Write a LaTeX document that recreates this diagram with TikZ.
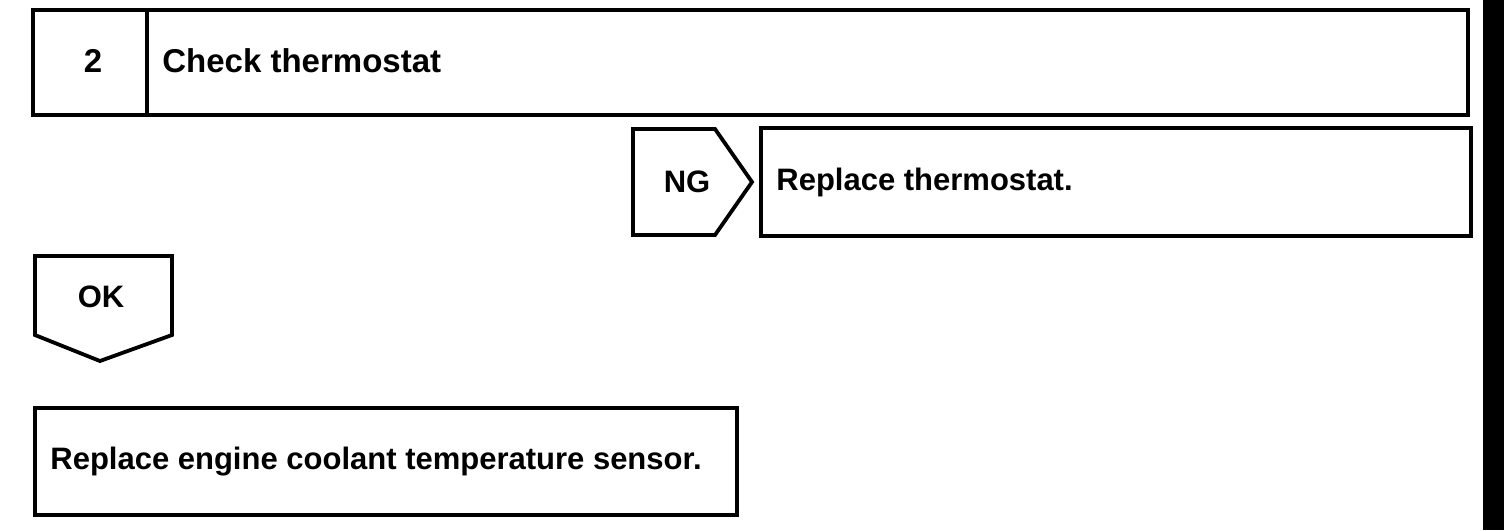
\documentclass[tikz,border=0pt]{standalone}
\usepackage{fontspec}
\setmainfont{Liberation Sans}
\usetikzlibrary{positioning}

\tikzset{
    frame/.style={line width=1.9pt, line join=miter},
    label/.style={font=\bfseries\fontsize{15.5}{18}\selectfont, inner sep=0pt},
    headlabel/.style={font=\bfseries\fontsize{16.5}{19}\selectfont, inner sep=0pt}
}

\begin{document}
\begin{tikzpicture}[x=0.5pt,y=-0.5pt]
    \useasboundingbox (0,0) rectangle (1504,530);

    % Step header
    \draw[frame] (33,10) rectangle (1468,115);
    \draw[frame] (147,10) -- (147,115);
    \node[headlabel] (stepno) at (93,61) {2};
    \node[headlabel, anchor=west] (steptitle) at (162,61) {Check thermostat};

    % NG branch
    \draw[frame] (633,129) -- (715,129) -- (752,182) -- (715,235) -- (633,235) -- cycle;
    \node[label] (ng) at (687,182) {NG};
    \draw[frame] (761,128) rectangle (1471,236);
    \node[label, anchor=west] (ngaction) at (776,182) {Replace thermostat.};

    % OK branch
    \draw[frame] (35,256) -- (172,256) -- (172,335) -- (100,361) -- (35,335) -- cycle;
    \node[label] (ok) at (101,297) {OK};
    \draw[frame] (35,408) rectangle (737,515);
    \node[label, anchor=west] (okaction) at (50,462) {Replace engine coolant temperature sensor.};

    % Page edge bar
    \fill (1483,0) rectangle (1504,530);
\end{tikzpicture}
\end{document}
